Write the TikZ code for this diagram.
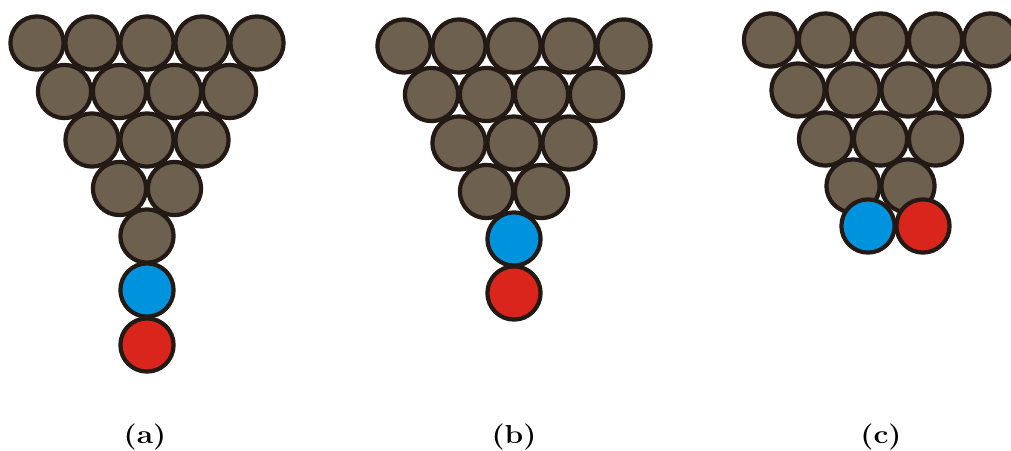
\documentclass[tikz,border=0pt]{standalone}
\usepackage{graphicx}
\definecolor{ballbrown}{RGB}{110,96,79}
\definecolor{ballblue}{RGB}{0,147,221}
\definecolor{ballred}{RGB}{218,37,29}
\definecolor{rim}{RGB}{35,26,21}
\tikzset{
  ball/.style={circle, draw=rim, line width=2.1pt, minimum size=26.6pt, inner sep=0pt},
  brown ball/.style={ball, fill=ballbrown},
  blue ball/.style={ball, fill=ballblue},
  red ball/.style={ball, fill=ballred},
  caption/.style={font=\fontsize{13}{15}\selectfont\bfseries, inner sep=0pt}
}
\begin{document}
\begin{tikzpicture}[x=0.5pt, y=-0.5pt]
\useasboundingbox (0,0) rectangle (1011,450);
\clip (0,0) rectangle (1011,450);

% (a) inverted pyramid with a vertical chain of two balls
\foreach \i in {0,...,4} \node[brown ball] (a1\i) at (37+55*\i, 43) {};
\foreach \i in {0,...,3} \node[brown ball] (a2\i) at (64.5+55*\i, 91.5) {};
\foreach \i in {0,...,2} \node[brown ball] (a3\i) at (92+55*\i, 140) {};
\foreach \i in {0,...,1} \node[brown ball] (a4\i) at (119.5+55*\i, 188.5) {};
\node[brown ball] (a50) at (147, 236) {};
\node[blue ball] (ablue) at (147, 290) {};
\node[red ball] (ared) at (147, 345) {};
\node[caption] (capa) at (145, 437) {\scalebox{1.15}[1]{(a)}};

% (b) blue ball seated in the apex notch
\foreach \i in {0,...,4} \node[brown ball] (b1\i) at (404+55*\i, 46) {};
\foreach \i in {0,...,3} \node[brown ball] (b2\i) at (431.5+55*\i, 94.5) {};
\foreach \i in {0,...,2} \node[brown ball] (b3\i) at (459+55*\i, 143) {};
\foreach \i in {0,...,1} \node[brown ball] (b4\i) at (486.5+55*\i, 191.5) {};
\node[blue ball] (bblue) at (514, 239) {};
\node[red ball] (bred) at (514, 293) {};
\node[caption] (capb) at (514, 437) {\scalebox{1.15}[1]{(b)}};

% (c) blue and red side by side below the apex
\foreach \i in {0,...,4} \node[brown ball] (c1\i) at (770.5+55*\i, 40) {};
\foreach \i in {0,...,3} \node[brown ball] (c2\i) at (798+55*\i, 90) {};
\foreach \i in {0,...,2} \node[brown ball] (c3\i) at (825.5+55*\i, 139) {};
\foreach \i in {0,...,1} \node[brown ball] (c4\i) at (853+55*\i, 186) {};
\node[blue ball] (cblue) at (868, 226) {};
\node[red ball] (cred) at (923, 226) {};
\node[caption] (capc) at (881, 437) {\scalebox{1.15}[1]{(c)}};
\end{tikzpicture}
\end{document}
